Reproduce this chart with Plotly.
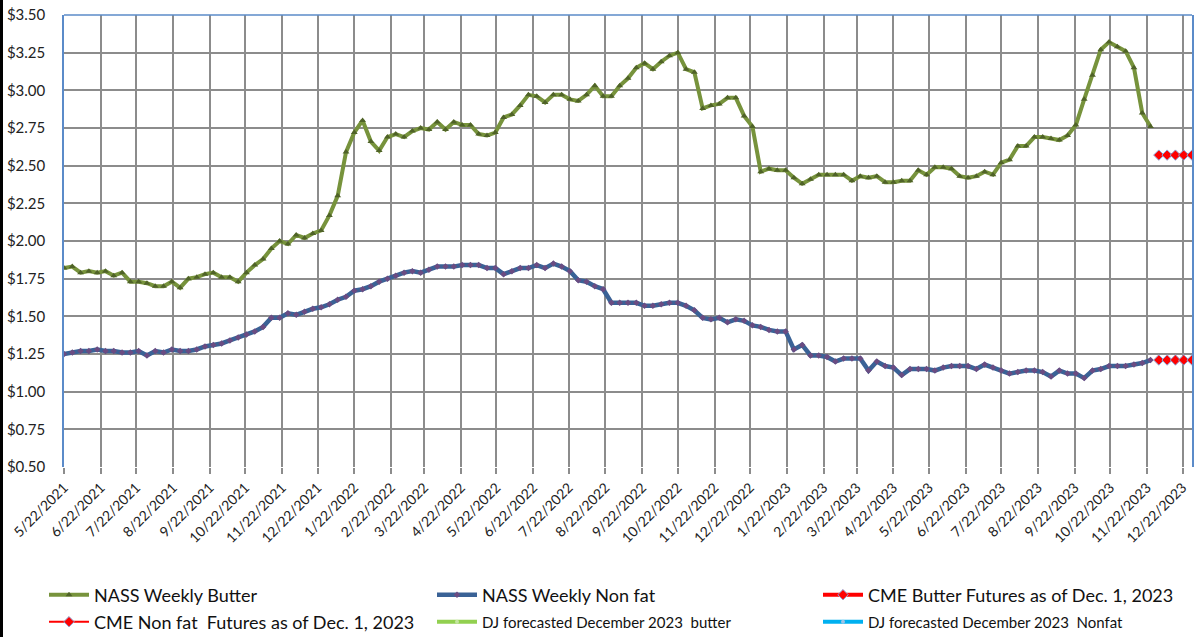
import pandas as pd
import plotly.graph_objects as go

# ---------------- data ----------------
week_start = "2021-05-22"
n_weeks = 132
weeks = pd.date_range(week_start, periods=n_weeks, freq="7D")

butter = [1.82, 1.83, 1.79, 1.80, 1.79, 1.80, 1.77, 1.79, 1.73, 1.73, 1.72, 1.70, 1.70, 1.73, 1.69,
          1.75, 1.76, 1.78, 1.79, 1.76, 1.76, 1.73, 1.79, 1.84, 1.88, 1.95, 2.00, 1.98, 2.04, 2.02,
          2.05, 2.07, 2.17, 2.30, 2.59, 2.72, 2.80, 2.66, 2.60, 2.69, 2.71,
          2.69, 2.73, 2.75, 2.74, 2.79, 2.74, 2.79, 2.77, 2.77, 2.71, 2.70, 2.72, 2.82, 2.84, 2.90,
          2.97, 2.96, 2.92, 2.97, 2.97, 2.94, 2.93, 2.97, 3.03, 2.96, 2.96, 3.03, 3.08, 3.15, 3.18,
          3.14, 3.19, 3.23, 3.25, 3.14, 3.12, 2.88, 2.90, 2.91, 2.95, 2.95, 2.83, 2.76, 2.46, 2.48, 2.47,
          2.47, 2.42, 2.38, 2.41, 2.44, 2.44, 2.44, 2.44, 2.40, 2.43, 2.42, 2.43, 2.39, 2.39, 2.40,
          2.40, 2.47, 2.44, 2.49, 2.49, 2.48, 2.43, 2.42, 2.43, 2.46, 2.44, 2.52, 2.54, 2.63, 2.63,
          2.69, 2.69, 2.68, 2.67, 2.70, 2.77, 2.94, 3.10, 3.27, 3.32, 3.29, 3.26, 3.15, 2.85, 2.76]

nonfat = [1.25, 1.26, 1.27, 1.27, 1.28, 1.27, 1.27, 1.26, 1.26, 1.27, 1.24, 1.27, 1.26, 1.28, 1.27,
          1.27, 1.28, 1.30, 1.31, 1.32, 1.34, 1.36, 1.38, 1.40, 1.43, 1.49, 1.49, 1.52, 1.51, 1.53,
          1.55, 1.56, 1.58, 1.61, 1.63, 1.67, 1.68, 1.70, 1.73, 1.75, 1.77,
          1.79, 1.80, 1.79, 1.81, 1.83, 1.83, 1.83, 1.84, 1.84, 1.84, 1.82, 1.82, 1.78, 1.80, 1.82,
          1.82, 1.84, 1.82, 1.85, 1.83, 1.80, 1.74, 1.73, 1.70, 1.68, 1.59, 1.59, 1.59, 1.59, 1.57,
          1.57, 1.58, 1.59, 1.59, 1.57, 1.54, 1.49, 1.48, 1.49, 1.46, 1.48, 1.47, 1.44, 1.43, 1.41, 1.40,
          1.40, 1.28, 1.31, 1.24, 1.24, 1.23, 1.20, 1.22, 1.22, 1.22, 1.14, 1.20, 1.17, 1.16, 1.11,
          1.15, 1.15, 1.15, 1.14, 1.16, 1.17, 1.17, 1.17, 1.15, 1.18, 1.16, 1.14, 1.12, 1.13, 1.14,
          1.14, 1.13, 1.10, 1.14, 1.12, 1.12, 1.09, 1.14, 1.15, 1.17, 1.17, 1.17, 1.18, 1.19, 1.21]

futures_dates = ["2023-12-02", "2023-12-09", "2023-12-16", "2023-12-23", "2023-12-30"]
cme_butter = [2.57, 2.57, 2.57, 2.57, 2.57]
cme_nonfat = [1.21, 1.21, 1.21, 1.21, 1.21]

dj_dates = [None]
dj_butter = [None]
dj_nonfat = [None]

names = ["NASS Weekly Butter", "NASS Weekly Non fat", "CME Butter Futures as of Dec. 1, 2023",
         "CME Non fat  Futures as of Dec. 1, 2023", "DJ forecasted December 2023  butter",
         "DJ forecasted December 2023  Nonfat"]

x_range = ["2021-05-22", "2023-12-30"]
y_range = [0.5, 3.5]

# ---------------- figure ----------------
FONT = "Lato"
fig = go.Figure()

fig.add_trace(go.Scatter(x=weeks, y=butter, name=names[0], mode="lines+markers", legend="legend",
                         line=dict(color="#77933C", width=4),
                         marker=dict(symbol="triangle-up", size=6, color="#4F6228")))
fig.add_trace(go.Scatter(x=weeks, y=nonfat, name=names[1], mode="lines+markers", legend="legend2",
                         line=dict(color="#3A6296", width=4.5),
                         marker=dict(symbol="diamond", size=5, color="#6A4C82")))
fig.add_trace(go.Scatter(x=futures_dates, y=cme_butter, name=names[2], mode="lines+markers",
                         legend="legend3",
                         line=dict(color="#FF0000", width=4),
                         marker=dict(symbol="diamond", size=8, color="#FF0000",
                                     line=dict(color="#8EA9DB", width=1))))
fig.add_trace(go.Scatter(x=futures_dates, y=cme_nonfat, name=names[3], mode="lines+markers",
                         legend="legend4",
                         line=dict(color="#FF0000", width=2),
                         marker=dict(symbol="diamond", size=8, color="#FF0000",
                                     line=dict(color="#8EA9DB", width=1))))
fig.add_trace(go.Scatter(x=dj_dates, y=dj_butter, name=names[4], legend="legend5",
                         mode="lines+markers", line=dict(color="#92D050", width=4),
                         marker=dict(symbol="circle", size=4, color="#C4E59F")))
fig.add_trace(go.Scatter(x=dj_dates, y=dj_nonfat, name=names[5], legend="legend6",
                         mode="lines+markers", line=dict(color="#00B0F0", width=4),
                         marker=dict(symbol="circle", size=4, color="#9DC3E6")))

L, R, T, B = 64, 4, 15, 170
W, H = 1196, 637
pw, ph = W - L - R, H - T - B


def leg(px, py, size):
    return dict(xref="container", yref="container", x=px / W, y=1 - py / H,
                xanchor="left", yanchor="middle", orientation="v",
                font=dict(size=size, family=FONT, color="#111111"),
                itemwidth=40, bgcolor="rgba(0,0,0,0)")


fig.update_layout(
    width=W, height=H,
    margin=dict(l=L, r=R, t=T, b=B, autoexpand=False),
    paper_bgcolor="white", plot_bgcolor="white",
    font=dict(family=FONT, color="#222222"),
    showlegend=True,
    legend=leg(44, 595, 18),
    legend2=leg(432, 595, 18),
    legend3=leg(818, 595, 18),
    legend4=leg(44, 622, 18),
    legend5=leg(432, 622, 15),
    legend6=leg(818, 622, 15),
    xaxis=dict(type="date", range=x_range, tick0=x_range[0], dtick="M1",
               tickformat="%-m/%-d/%Y", tickangle=-45, automargin=False,
               tickfont=dict(size=14, family=FONT, color="#222222"),
               showgrid=True, gridcolor="#8C8C8C", gridwidth=1.6,
               ticks="outside", ticklen=6, tickcolor="#8C8C8C", tickwidth=1.5,
               showline=False, zeroline=False),
    yaxis=dict(range=y_range, dtick=0.25, tick0=0.5, tickprefix="$", tickformat=".2f",
               tickfont=dict(size=15, family=FONT, color="#222222"), automargin=False,
               showgrid=True, gridcolor="#8C8C8C", gridwidth=1.6,
               showline=True, linecolor="#5B8BC9", linewidth=1.5, mirror=True,
               ticks="", ticklabelstandoff=14, zeroline=False),
    shapes=[
        dict(type="line", xref="paper", yref="paper", x0=0, x1=1, y0=1, y1=1,
             line=dict(color="#5B8BC9", width=1.5)),
        dict(type="line", xref="paper", yref="paper",
             x0=-(L - 1.5) / pw, x1=-(L - 1.5) / pw, y0=-B / ph, y1=1 + T / ph,
             line=dict(color="#000000", width=3)),
    ],
)

fig.write_html("out.html", config={"displayModeBar": False},
               post_script="document.body.style.margin='0';document.body.style.overflow='hidden';")
